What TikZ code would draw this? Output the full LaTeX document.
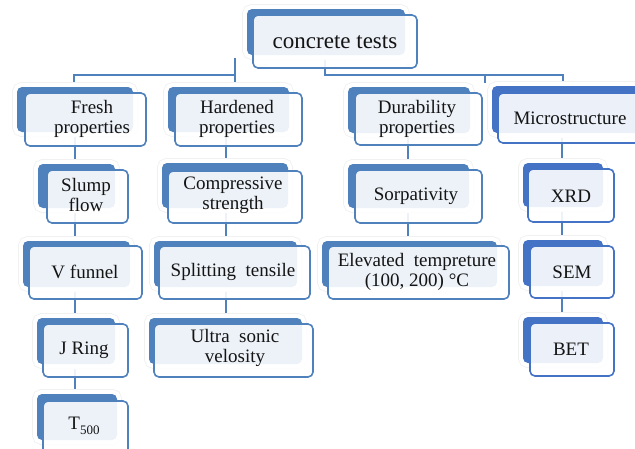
\documentclass[tikz,border=0pt]{standalone}
\usepackage{fontspec}
\setmainfont{Liberation Serif}
\usetikzlibrary{fit}
\definecolor{bkblue}{HTML}{4F81BD}
\definecolor{bkbluetwo}{HTML}{4472C4}
\definecolor{txt}{HTML}{141414}
\pgfdeclarelayer{bg}
\pgfsetlayers{bg,main}
\newcommand\mybox[8][bkblue]{%
  \node[backbox, fill=#1, fit={(#3) (#4)}] (#2-b) {};
  \node[frontbox, draw=#1, fit={(#5) (#6)}] (#2) {};
  \node[lbl] (#2-t) at (#7) {#8};
}
\begin{document}
\begin{tikzpicture}[x=1pt,y=-1pt,
  backbox/.style={rounded corners=5pt, inner sep=0pt, outer sep=0pt,
    preaction={draw=black!6, line width=10pt},
    preaction={draw=white, line width=8.4pt}},
  frontbox/.style={line width=1.6pt, fill=white, fill opacity=0.9,
    rounded corners=5pt, inner sep=0pt, outer sep=0pt},
  lbl/.style={font=\fontsize{19}{20}\selectfont, text=txt, align=center, inner sep=0pt},
  conn/.style={draw=bkblue, line width=2pt},
  rootconn/.style={draw=bkblue, line width=2.4pt}]
\useasboundingbox (0,0) rectangle (635,448);
\clip (0,0) rectangle (635,448);

% root
\mybox{root}{247,9}{405,55}{253,15}{417,68}{335,42}{\fontsize{23}{24}\selectfont concrete tests}

% level 1
\mybox{fresh}{17,87}{133,132}{25,93}{146,146}{92,119}{Fresh\\properties}
\mybox{hard}{168,87}{289,132}{175,93}{302,146}{237,119}{Hardened\\properties}
\mybox{dura}{348,87}{470,133}{355,93}{482,145}{417,119}{Durability\\properties}
\mybox[bkbluetwo]{micro}{492,86}{640,133}{498,93}{650,143}{570,118}{Microstructure}

% level 2
\mybox{slump}{38,164}{115,208}{47,170}{128,223}{86,195}{Slump\\flow}
\mybox{comp}{162,163}{288,208}{168,171}{302,223}{233,195}{Compressive\\strength}
\mybox{sorp}{348,164}{469,208}{355,170}{482,223}{416,196}{Sorpativity}
\mybox[bkbluetwo]{xrd}{523,163}{603,207}{528,169}{614,222}{571,196}{XRD}

% level 3
\mybox{vfun}{23,241}{130,287}{29,246}{142,299}{85,272}{V funnel}
\mybox{split}{154,241}{297,287}{159,246}{310,299}{233,272}{Splitting\ \ tensile}
\mybox{elev}{322,241}{497,287}{328,246}{509,299}{417,272}{Elevated\ \ tempreture\\(100, 200) °C}
\mybox[bkbluetwo]{sem}{523,240}{603,286}{530,246}{614,298}{572,272}{SEM}

% level 4
\mybox{jring}{37,318}{115,364}{43,324}{128,377}{84,350}{J Ring}
\mybox{ultra}{149,318}{302,364}{154,324}{313,377}{235,348}{Ultra\ \ sonic\\velosity}
\mybox[bkbluetwo]{bet}{523,317}{603,363}{530,323}{614,376}{571,349}{BET}

% level 5
\mybox{tfive}{37,394}{117,440}{43,401}{128,455}{84,426}{T\raisebox{-5pt}{\fontsize{13}{13}\selectfont 500}}

\begin{pgfonlayer}{bg}
  \fill[white] (0,0) rectangle (635,448);
  \coordinate (cA) at (75,0);
  \coordinate (cB) at (226,0);
  \coordinate (cC) at (408,0);
  \coordinate (cD) at (562,0);
  \coordinate (cF) at (74,0);
  \coordinate (cM) at (563,0);
  \coordinate (hubL) at (235,58);
  \coordinate (hubR) at (325,60);
  \coordinate (barY) at (0,75);
  \coordinate (dX) at (485,83);
  % root connectors
  \draw[rootconn] (hubL) -- (hubL |- hard-b.north);
  \draw[rootconn] (hubL |- barY) -| (fresh-b.north -| cF);
  \draw[rootconn] (hubR) -- (hubR |- barY) -| (micro-b.north -| cM);
  \draw[rootconn] (barY -| dX) -- (dX);
  % column A
  \draw[conn] (fresh-b.south -| cA) -- (slump-b.north -| cA);
  \draw[conn] (slump-b.south -| cA) -- (vfun-b.north -| cA);
  \draw[conn] (vfun-b.south -| cA) -- (jring-b.north -| cA);
  \draw[conn] (jring-b.south -| cA) -- (tfive-b.north -| cA);
  % column B
  \draw[conn] (hard-b.south -| cB) -- (comp-b.north -| cB);
  \draw[conn] (comp-b.south -| cB) -- (split-b.north -| cB);
  \draw[conn] (split-b.south -| cB) -- (ultra-b.north -| cB);
  % column C
  \draw[conn] (dura-b.south -| cC) -- (sorp-b.north -| cC);
  \draw[conn] (sorp-b.south -| cC) -- (elev-b.north -| cC);
  % column D
  \draw[conn] (micro-b.south -| cD) -- (xrd-b.north -| cD);
  \draw[conn] (xrd-b.south -| cD) -- (sem-b.north -| cD);
  \draw[conn] (sem-b.south -| cD) -- (bet-b.north -| cD);
\end{pgfonlayer}
\end{tikzpicture}
\end{document}
